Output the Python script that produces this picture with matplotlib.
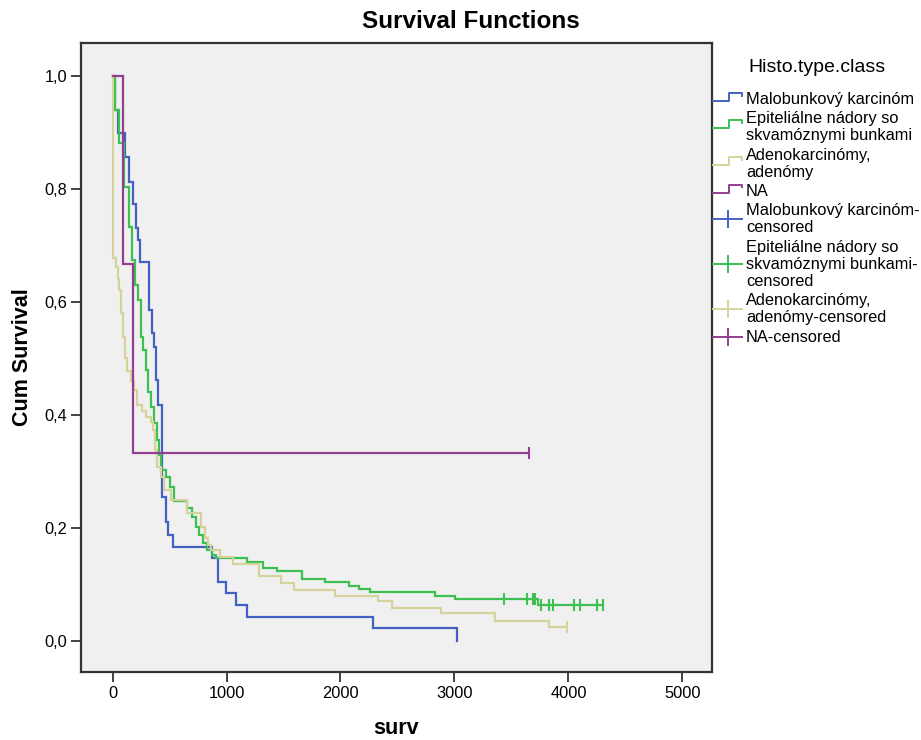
import matplotlib
matplotlib.use("Agg")
import matplotlib.pyplot as plt
import numpy as np
from matplotlib.lines import Line2D
import matplotlib.ticker as ticker

plt.rcParams['font.family'] = ['Liberation Sans', 'DejaVu Sans']

# survival data (time of each drop, level after the drop)
blue_t = [17, 44, 105, 140, 175, 210, 225, 241, 316, 342, 362, 377, 397, 430, 465, 490, 532,
          875, 924, 997, 1079, 1182, 2283, 3018]
blue_s = [0.94, 0.899, 0.857, 0.812, 0.773, 0.731, 0.71, 0.671, 0.586, 0.545, 0.52, 0.462, 0.418,
          0.255, 0.21, 0.188, 0.167, 0.147, 0.105, 0.085, 0.064, 0.043, 0.023, 0.0]
blue_cens = []

green_t = [17, 55, 99, 143, 173, 196, 225, 246, 266, 289, 310, 333, 362, 386, 406, 427, 465, 503,
           538, 655, 699, 728, 757, 796, 831, 875, 904, 1182, 1322, 1439, 1664, 1868, 2073, 2161,
           2257, 2825, 3009, 3737]
green_s = [0.94, 0.881, 0.804, 0.733, 0.674, 0.63, 0.604, 0.538, 0.515, 0.48, 0.44, 0.414, 0.386,
           0.356, 0.329, 0.303, 0.29, 0.273, 0.248, 0.235, 0.22, 0.202, 0.188, 0.173, 0.161, 0.152,
           0.147, 0.14, 0.129, 0.123, 0.11, 0.104, 0.098, 0.0915, 0.086, 0.08, 0.074, 0.064]
green_cens = [3432, 3638, 3690, 3711, 3763, 3833, 3866, 4047, 4105, 4252, 4300]

yellow_t = [6, 26, 46, 55, 76, 90, 105, 123, 158, 187, 217, 261, 289, 333, 354, 371, 392, 427,
            450, 509, 655, 778, 810, 836, 860, 947, 1059, 1283, 1474, 1590, 1956, 2331, 2454,
            2882, 3354, 3827]
yellow_s = [0.678, 0.662, 0.64, 0.621, 0.58, 0.538, 0.5, 0.478, 0.46, 0.444, 0.418, 0.406, 0.397,
            0.388, 0.373, 0.338, 0.308, 0.29, 0.267, 0.25, 0.226, 0.202, 0.182, 0.17, 0.16, 0.149,
            0.136, 0.114, 0.102, 0.09, 0.08, 0.07, 0.058, 0.049, 0.036, 0.024]
yellow_cens = [3989]

na_t = [94, 178]
na_s = [0.667, 0.333]
na_cens = [3650]

group_names = ["Malobunkový karcinóm", "Epiteliálne nádory so skvamóznymi bunkami",
               "Adenokarcinómy, adenómy", "NA"]
colors = ['#4361c2', '#3cc052', '#d6d29c', '#923f92']

legend_lines = [
    ["Malobunkový karcinóm"],
    ["Epiteliálne nádory so", "skvamóznymi bunkami"],
    ["Adenokarcinómy,", "adenómy"],
    ["NA"],
    ["Malobunkový karcinóm-", "censored"],
    ["Epiteliálne nádory so", "skvamóznymi bunkami-", "censored"],
    ["Adenokarcinómy,", "adenómy-censored"],
    ["NA-censored"],
]

groups = [(blue_t, blue_s, blue_cens), (green_t, green_s, green_cens),
          (yellow_t, yellow_s, yellow_cens), (na_t, na_s, na_cens)]

W, H = 921, 740
fig = plt.figure(figsize=(W / 100, H / 100), dpi=100)
ax = fig.add_axes([81 / W, 1 - 672 / H, (712 - 81) / W, (672 - 43) / H])
ax.set_facecolor('#f0f0f0')

for (t, s, cens), col in zip(groups, colors):
    tt = [0] + list(t)
    ss = [1.0] + list(s)
    t_end = max(tt[-1], max(cens) if cens else 0)
    tt.append(t_end)
    ss.append(ss[-1])
    ax.step(tt, ss, where='post', color=col, lw=1.6, solid_joinstyle='miter')
    if cens:
        idx = np.searchsorted(np.array(tt), np.array(cens), side='right') - 1
        ax.plot(cens, np.array(ss)[idx], ls='none', marker='|', ms=8.5, mew=1.5, color=col)

ax.set_xlim(-277, 5260)
ax.set_ylim(-0.055, 1.058)
ax.set_xticks([0, 1000, 2000, 3000, 4000, 5000])
ax.set_yticks([0, 0.2, 0.4, 0.6, 0.8, 1.0])
ax.yaxis.set_major_formatter(ticker.FuncFormatter(lambda v, p: f"{v:.1f}".replace('.', ',')))
ax.tick_params(labelsize=11.8, length=7, width=1.3, color='#333333', pad=3)
for sp in ax.spines.values():
    sp.set_color('#333333')
    sp.set_linewidth(1.6)

ax.set_xlabel("surv", fontsize=15.5, fontweight='bold', labelpad=12)
ax.set_ylabel("Cum Survival", fontsize=15.5, fontweight='bold', labelpad=8)
fig.text(471 / W, 1 - 22 / H, "Survival Functions", fontsize=17.5, fontweight='bold',
         ha='center', va='center')

# legend drawn by hand, SPSS style
def fx(x):
    return x / W

def fy(y):
    return 1 - y / H

fig.text(fx(748), fy(67), "Histo.type.class", fontsize=14, ha='left', va='center')
y = 99.5
spacing = 17.2
for i, lines in enumerate(legend_lines):
    col = colors[i % 4]
    ys = [y + k * spacing for k in range(len(lines))]
    for line, yy in zip(lines, ys):
        fig.text(fx(746), fy(yy), line, fontsize=11.8, ha='left', va='center')
    yc = np.mean(ys)
    if i < 4:
        xs = [713, 729, 729, 742, 742]
        yh = [yc + 1, yc + 1, yc - 7, yc - 7, yc - 4]
        fig.add_artist(Line2D([fx(v) for v in xs], [fy(v) for v in yh], color=col, lw=1.4,
                              transform=fig.transFigure))
    else:
        fig.add_artist(Line2D([fx(713), fx(742)], [fy(yc), fy(yc)], color=col, lw=1.4,
                              transform=fig.transFigure))
        fig.add_artist(Line2D([fx(728), fx(728)], [fy(yc - 8), fy(yc + 8)], color=col, lw=1.4,
                              transform=fig.transFigure))
    y = ys[-1] + spacing + 2

fig.savefig("out.png", dpi=100)
